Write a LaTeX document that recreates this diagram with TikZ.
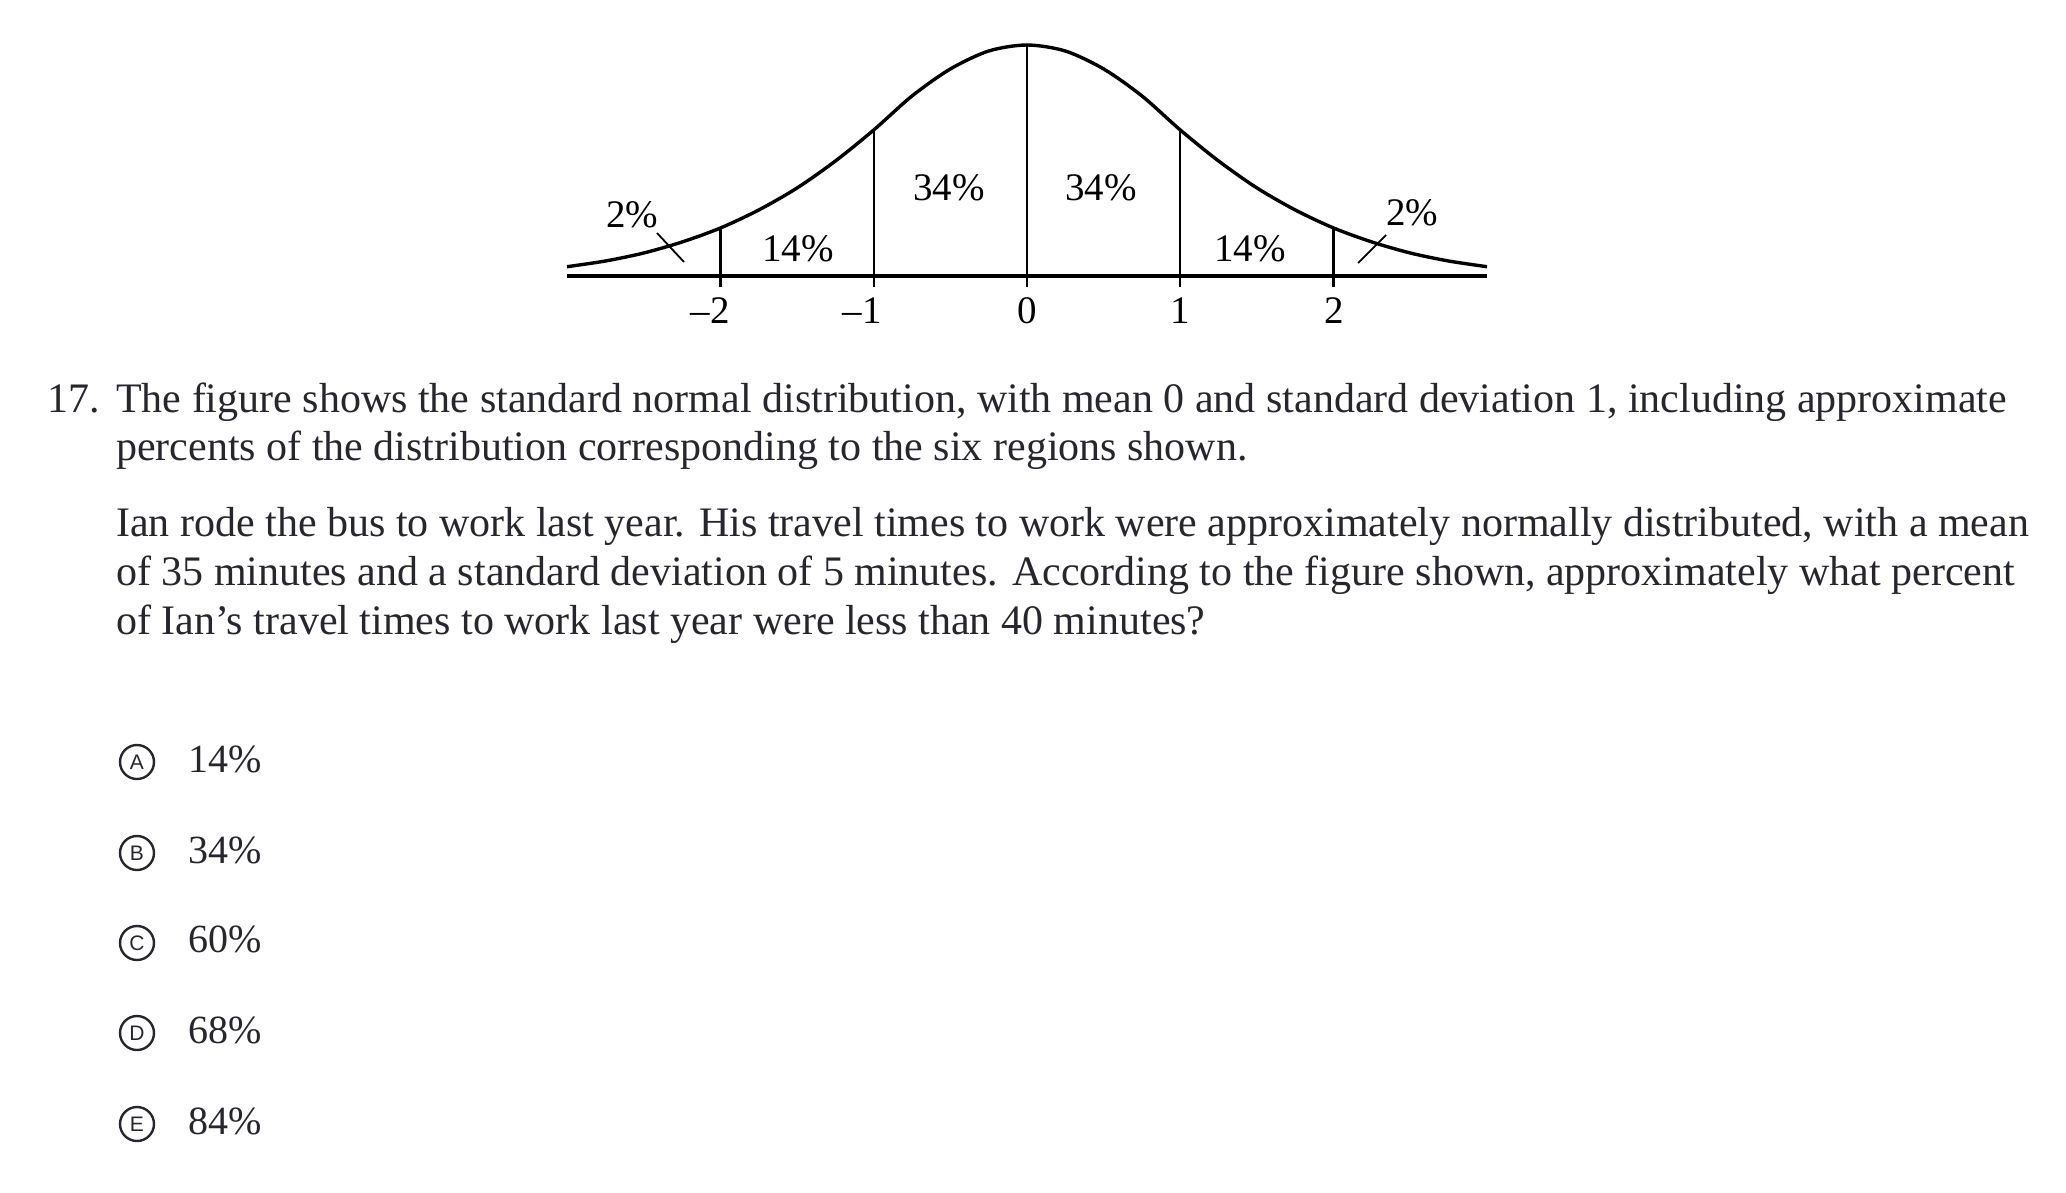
\documentclass[tikz,border=0pt]{standalone}
\usepackage{fontspec}
\setmainfont{Liberation Serif}
\setsansfont{Liberation Sans}
\definecolor{textgray}{RGB}{38,38,44}

\begin{document}
\begin{tikzpicture}[x=1pt,y=1pt,yscale=-1,xscale=1,
  curveline/.style={line width=3.4pt},
  axisline/.style={line width=3.3pt},
  tickline/.style={line width=2.3pt},
  slashline/.style={line width=1.8pt},
  figlabel/.style={inner sep=0pt,anchor=base,font=\fontsize{39}{39}\selectfont},
  qtext/.style={inner sep=0pt,anchor=base west,text=textgray,font=\fontsize{42}{48}\selectfont},
  choicetext/.style={inner sep=0pt,anchor=base west,text=textgray,font=\fontsize{40}{40}\selectfont},
  letterbox/.style={circle,draw=textgray,line width=2.4pt,minimum size=34pt,inner sep=0pt,text=textgray,font=\sffamily\fontsize{21}{21}\selectfont}]
%set diagram size to the page
\useasboundingbox (0,0) rectangle (2066,1192);

%Curve Lines
\draw[curveline] plot[smooth] coordinates {(567,266.7) (605.4,261) (643.7,253) (682,242) (720.4,228) (758.7,210) (797,188) (835.4,161) (873.7,130) (912,96) (950.3,69) (988.7,51) (1027,45) (1065.3,51) (1103.7,69) (1142,96) (1180.3,130) (1218.6,161) (1257,188) (1295.3,210) (1333.6,228) (1372,242) (1410.3,253) (1448.6,261) (1487,266.7)};
%Straight Lines
\draw[axisline]    (567,276) -- (1487,276) ;
%Straight Lines
\draw[tickline]    (720.4,287) -- (720.4,228) ;
%Straight Lines
\draw[tickline]    (873.7,287) -- (873.7,130) ;
%Straight Lines
\draw[tickline]    (1027,287) -- (1027,45) ;
%Straight Lines
\draw[tickline]    (1180.3,287) -- (1180.3,130) ;
%Straight Lines
\draw[tickline]    (1333.6,287) -- (1333.6,228) ;
%Straight Lines
\draw[slashline]    (657,233) -- (684,262) ;
%Straight Lines
\draw[slashline]    (1358,263) -- (1386,235) ;

%Text Node
\node[figlabel] (pctLtail) at (632,227) {2\%};
\node[figlabel] (pctLmid) at (798,261) {14\%};
\node[figlabel] (pctLcen) at (949,200) {34\%};
\node[figlabel] (pctRcen) at (1101,200) {34\%};
\node[figlabel] (pctRmid) at (1250,261) {14\%};
\node[figlabel] (pctRtail) at (1412,225) {2\%};
%Text Node
\node[figlabel] (zmtwo) at (710,323) {–2};
\node[figlabel] (zmone) at (862,323) {–1};
\node[figlabel] (zzero) at (1027,323) {0};
\node[figlabel] (zone) at (1180,323) {1};
\node[figlabel] (ztwo) at (1334,323) {2};

%Text Node
\node[qtext] (qnum) at (47,412) {17.};
\node[qtext] (qlineA) at (116,412) {The figure shows the standard normal distribution, with mean 0 and standard deviation 1, including approximate};
\node[qtext] (qlineB) at (116,460) {percents of the distribution corresponding to the six regions shown.};
\node[qtext] (qlineC) at (116,536) {Ian rode the bus to work last year. His travel times to work were approximately normally distributed, with a mean};
\node[qtext] (qlineD) at (116,585) {of 35 minutes and a standard deviation of 5 minutes. According to the figure shown, approximately what percent};
\node[qtext] (qlineE) at (116,634) {of Ian’s travel times to work last year were less than 40 minutes?};

%Text Node
\node[letterbox] (optA) at (137,762) {A};
\node[letterbox] (optB) at (137,853) {B};
\node[letterbox] (optC) at (137,943) {C};
\node[letterbox] (optD) at (137,1033) {D};
\node[letterbox] (optE) at (137,1124) {E};
\node[choicetext] (ansA) at (188,772) {14\%};
\node[choicetext] (ansB) at (188,863) {34\%};
\node[choicetext] (ansC) at (188,952) {60\%};
\node[choicetext] (ansD) at (188,1043) {68\%};
\node[choicetext] (ansE) at (188,1134) {84\%};
\end{tikzpicture}
\end{document}
